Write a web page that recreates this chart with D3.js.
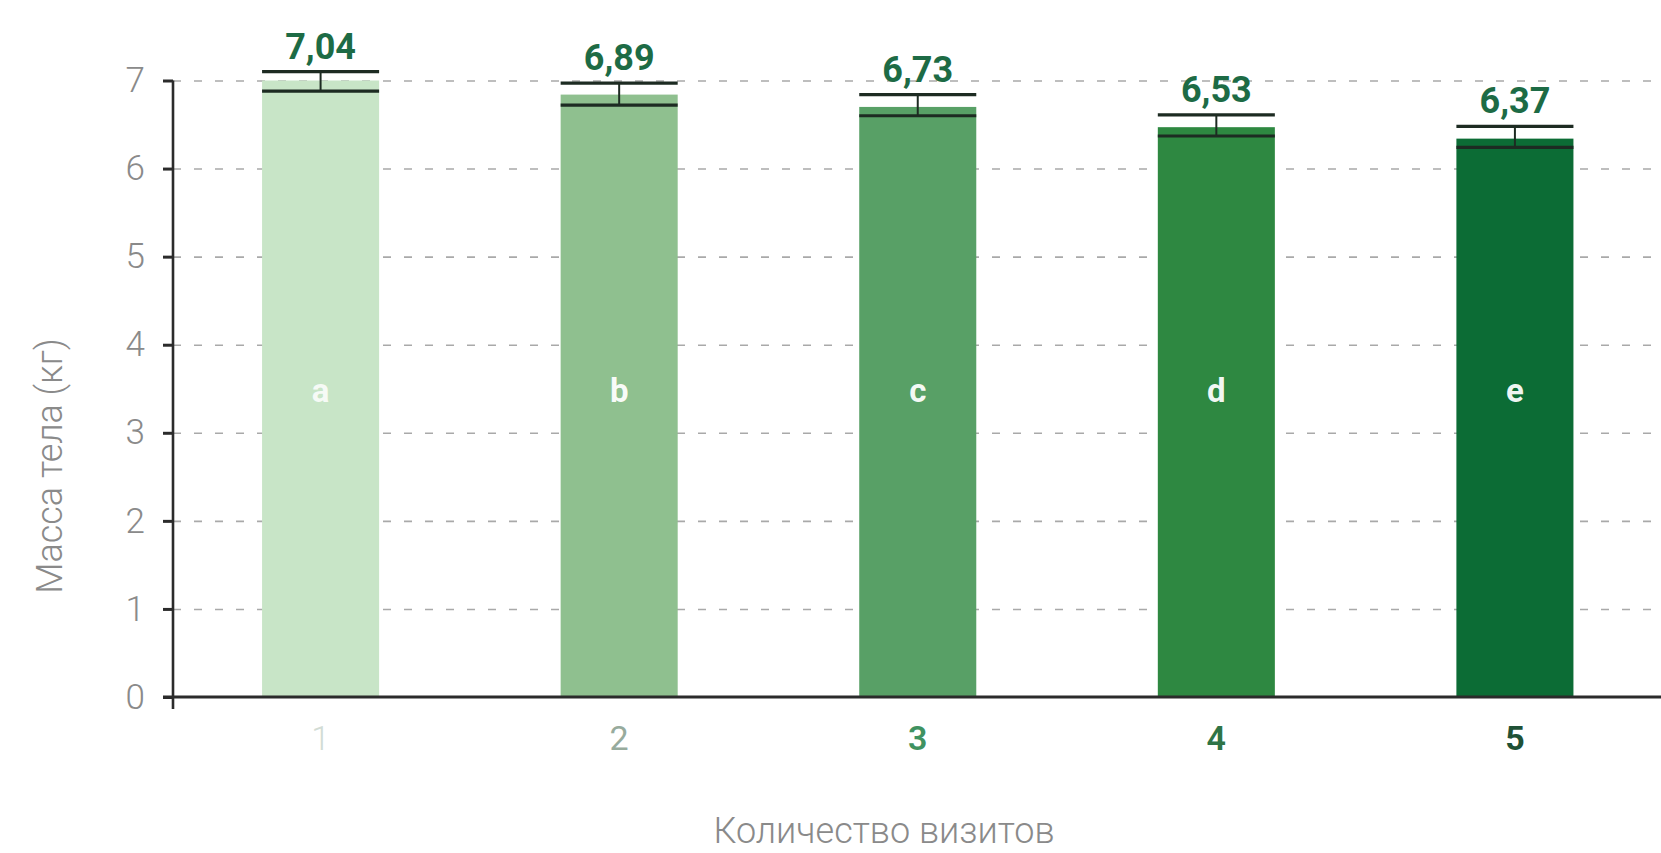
<!DOCTYPE html>
<html>
<head>
<meta charset="utf-8">
<script src="https://cdn.jsdelivr.net/npm/d3@7/dist/d3.min.js"></script>
<style>
  html, body { margin: 0; padding: 0; background: #ffffff; }
  svg { display: block; }
  text { font-family: Roboto, "DejaVu Sans", sans-serif; }
</style>
</head>
<body>
<svg id="chart" width="1661" height="853"></svg>
<script>
// ---- data ----
const visits = ["1", "2", "3", "4", "5"];
const barValues = [7.00, 6.84, 6.70, 6.47, 6.34];
const errHigh = [7.10, 6.97, 6.84, 6.61, 6.48];
const errLow = [6.88, 6.72, 6.60, 6.37, 6.24];
const valueLabels = ["7,04", "6,89", "6,73", "6,53", "6,37"];
const groupLetters = ["a", "b", "c", "d", "e"];
const yTicks = [0, 1, 2, 3, 4, 5, 6, 7];
const yTitle = "Масса тела (кг)";
const xTitle = "Количество визитов";

// ---- styles ----
const barColors = ["#c8e5c7", "#8fc08f", "#58a066", "#2e8841", "#0c6c35"];
const tickColors = ["#d2dcd5", "#97ab9d", "#3f9261", "#2f7446", "#1f5136"];
const tickWeights = [300, 400, 600, 600, 700];

const W = 1661, H = 853;
const axisX = 173;
const svg = d3.select("#chart");

const x = d3.scaleBand()
  .domain(visits)
  .range([169.5, 1666])
  .paddingInner(0.608)
  .paddingOuter(0.31);

const y = d3.scaleLinear()
  .domain([0, 7])
  .range([697, 80.5]);

// gridlines
const grid = svg.append("g")
  .attr("transform", `translate(${axisX},0)`)
  .call(d3.axisLeft(y).tickValues(yTicks.filter(d => d > 0)).tickSize(-(W - axisX)).tickFormat(""));
grid.select(".domain").remove();
grid.selectAll(".tick line")
  .attr("stroke", "#a9a9a9")
  .attr("stroke-width", 1.6)
  .attr("stroke-dasharray", "8,13");

// bars
svg.append("g").selectAll("rect")
  .data(visits)
  .join("rect")
  .attr("x", d => x(d))
  .attr("width", x.bandwidth())
  .attr("y", (d, i) => y(barValues[i]))
  .attr("height", (d, i) => y(0) - y(barValues[i]))
  .attr("fill", (d, i) => barColors[i]);

// error bars
const eb = svg.append("g").selectAll("g")
  .data(visits)
  .join("g");
eb.append("line")
  .attr("x1", d => x(d) + x.bandwidth() / 2)
  .attr("x2", d => x(d) + x.bandwidth() / 2)
  .attr("y1", (d, i) => y(errHigh[i]))
  .attr("y2", (d, i) => y(errLow[i]))
  .attr("stroke", "#1d2b22")
  .attr("stroke-width", 2);
eb.append("line")
  .attr("x1", d => x(d))
  .attr("x2", d => x(d) + x.bandwidth())
  .attr("y1", (d, i) => y(errHigh[i]))
  .attr("y2", (d, i) => y(errHigh[i]))
  .attr("stroke", "#1d2b22")
  .attr("stroke-width", 3.2);
eb.append("line")
  .attr("x1", d => x(d))
  .attr("x2", d => x(d) + x.bandwidth())
  .attr("y1", (d, i) => y(errLow[i]))
  .attr("y2", (d, i) => y(errLow[i]))
  .attr("stroke", "#1d2b22")
  .attr("stroke-width", 3.2);

// value labels
svg.append("g").selectAll("text")
  .data(visits)
  .join("text")
  .attr("x", d => x(d) + x.bandwidth() / 2)
  .attr("y", (d, i) => y(errHigh[i]) - 13)
  .attr("text-anchor", "middle")
  .attr("font-size", 36)
  .attr("font-weight", 700)
  .attr("fill", "#1d6b45")
  .text((d, i) => valueLabels[i]);

// letters inside bars
svg.append("g").selectAll("text")
  .data(visits)
  .join("text")
  .attr("x", d => x(d) + x.bandwidth() / 2)
  .attr("y", 390)
  .attr("text-anchor", "middle")
  .attr("dominant-baseline", "central")
  .attr("font-size", 33)
  .attr("font-weight", 700)
  .attr("fill", "#ffffff")
  .attr("fill-opacity", (d, i) => i === 0 ? 0.85 : 0.95)
  .text((d, i) => groupLetters[i]);

// y axis
const yAxis = svg.append("g")
  .attr("transform", `translate(${axisX},0)`)
  .call(d3.axisLeft(y).tickValues(yTicks).tickFormat(d3.format("d")).tickSize(10).tickPadding(18).tickSizeOuter(0));
yAxis.select(".domain").remove();
yAxis.selectAll(".tick line").attr("stroke", "#2b2b2b").attr("stroke-width", 3);
yAxis.selectAll(".tick text")
  .attr("font-size", 35)
  .attr("font-weight", 300)
  .attr("fill", "#8a8a8a")
  .attr("font-family", "Roboto, sans-serif");
yAxis.append("line")
  .attr("x1", 0).attr("x2", 0)
  .attr("y1", y(7)).attr("y2", y(0) + 12)
  .attr("stroke", "#2b2b2b")
  .attr("stroke-width", 2.6);

// x axis
const xAxis = svg.append("g")
  .attr("transform", `translate(0,${y(0)})`)
  .call(d3.axisBottom(x).tickSize(0).tickPadding(0));
xAxis.select(".domain").remove();
xAxis.selectAll(".tick text")
  .attr("y", 41)
  .attr("dy", null)
  .attr("dominant-baseline", "central")
  .attr("font-size", 34)
  .attr("font-family", "Roboto, sans-serif")
  .attr("font-weight", (d, i) => tickWeights[i])
  .attr("fill", (d, i) => tickColors[i]);
xAxis.append("line")
  .attr("x1", axisX - 10).attr("x2", W)
  .attr("y1", 0).attr("y2", 0)
  .attr("stroke", "#2b2b2b")
  .attr("stroke-width", 3);

// titles
svg.append("text")
  .attr("transform", "translate(50,466) rotate(-90)")
  .attr("text-anchor", "middle")
  .attr("dominant-baseline", "central")
  .attr("font-size", 36)
  .attr("font-weight", 300)
  .attr("fill", "#8a8a8a")
  .text(yTitle);

svg.append("text")
  .attr("x", 884)
  .attr("y", 831)
  .attr("text-anchor", "middle")
  .attr("dominant-baseline", "central")
  .attr("font-size", 36)
  .attr("font-weight", 300)
  .attr("fill", "#8a8a8a")
  .text(xTitle);
</script>
</body>
</html>
